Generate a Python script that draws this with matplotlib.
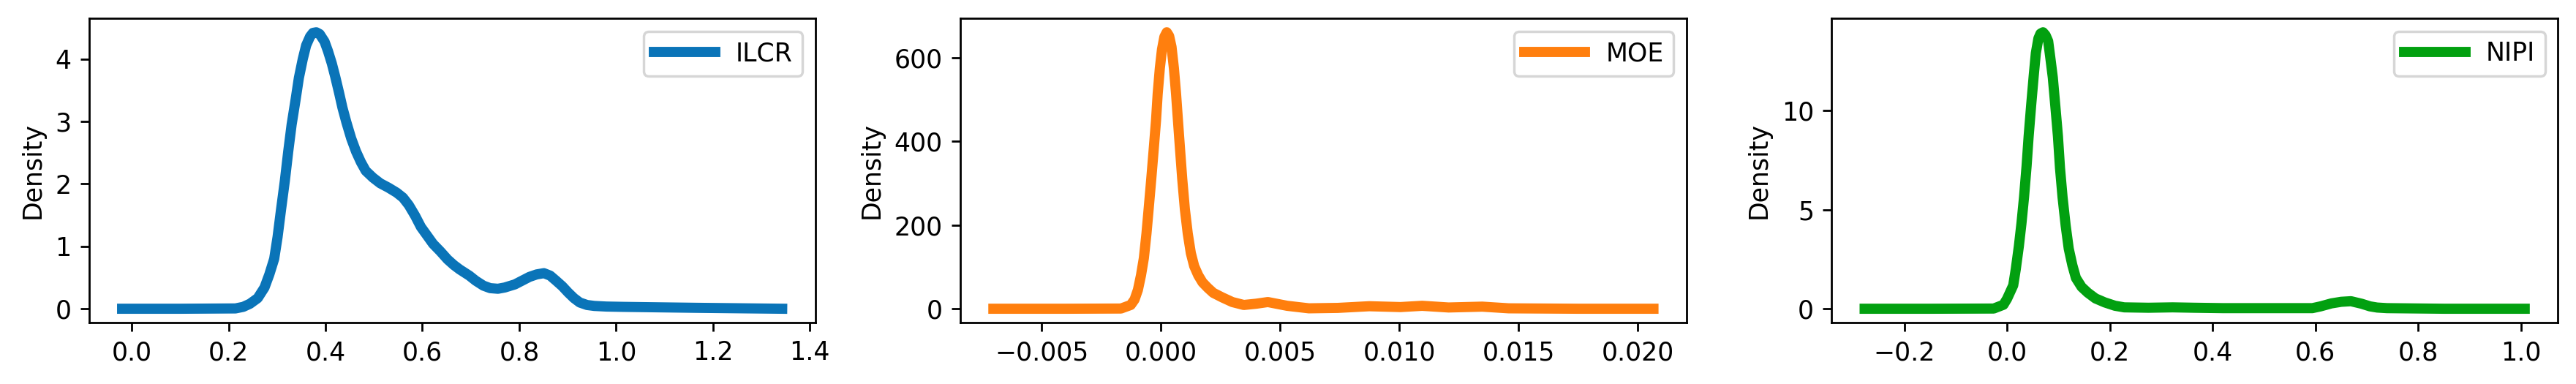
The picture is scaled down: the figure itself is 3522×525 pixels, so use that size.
import matplotlib
matplotlib.use("Agg")
import matplotlib.pyplot as plt

# KDE curves (x, density)
ilcr_x = [-0.02, 0.10, 0.214, 0.23, 0.244, 0.26, 0.274, 0.284, 0.294, 0.301, 0.308,
          0.316, 0.323, 0.33, 0.338, 0.345, 0.353, 0.36, 0.368, 0.374, 0.381, 0.388,
          0.398, 0.405, 0.413, 0.42, 0.428, 0.435, 0.443, 0.453, 0.463, 0.473, 0.483,
          0.498, 0.513, 0.53, 0.547, 0.56, 0.572, 0.585, 0.597, 0.61, 0.622, 0.637,
          0.652, 0.665, 0.677, 0.697, 0.71, 0.726, 0.74, 0.756, 0.77, 0.791, 0.806,
          0.821, 0.836, 0.851, 0.864, 0.876, 0.889, 0.901, 0.913, 0.925, 0.94, 0.955,
          0.98, 1.015, 1.164, 1.343]
ilcr_y = [0.0, 0.0, 0.005, 0.03, 0.08, 0.17, 0.34, 0.55, 0.80, 1.15, 1.58,
          2.05, 2.52, 2.95, 3.34, 3.70, 4.00, 4.22, 4.36, 4.42, 4.43, 4.40,
          4.28, 4.13, 3.93, 3.72, 3.46, 3.22, 2.99, 2.73, 2.52, 2.35, 2.21,
          2.10, 2.01, 1.94, 1.86, 1.78, 1.66, 1.49, 1.31, 1.17, 1.04, 0.92,
          0.79, 0.70, 0.63, 0.53, 0.45, 0.37, 0.33, 0.32, 0.34, 0.39, 0.45,
          0.51, 0.55, 0.57, 0.53, 0.45, 0.36, 0.26, 0.17, 0.10, 0.06, 0.045,
          0.035, 0.03, 0.015, 0.0]

moe_x = [-0.00702, -0.004, -0.00167, -0.00126, -0.0011, -0.00096, -0.00083, -0.00071,
         -0.0006, -0.00051, -0.0004, -0.0003, -0.0002, -0.00013, -0.00004, 0.00005,
         0.00015, 0.00025, 0.00035, 0.00045, 0.00055, 0.00064, 0.00072, 0.00081,
         0.0009, 0.00101, 0.00113, 0.00126, 0.0014, 0.00157, 0.00175, 0.00197,
         0.0022, 0.00258, 0.003, 0.00348, 0.004, 0.00449, 0.0053, 0.00621, 0.00742,
         0.00874, 0.01005, 0.01096, 0.01207, 0.01348, 0.01459, 0.0175, 0.02066]
moe_y = [0, 0, 0.5, 9, 22, 45, 80, 121,
         180, 238, 310, 379, 450, 514, 575, 620,
         650, 661, 652, 626, 575, 514, 450, 379,
         310, 238, 180, 133, 102, 80, 63, 50,
         38, 27, 16, 9, 12, 16, 7, 1, 2,
         6, 4, 7, 3, 5, 1, 0, 0]

nipi_x = [-0.277, -0.15, -0.026, -0.007, 0.0, 0.012, 0.017, 0.023, 0.028, 0.033,
          0.038, 0.042, 0.047, 0.052, 0.056, 0.061, 0.065, 0.070, 0.075, 0.080,
          0.084, 0.089, 0.094, 0.099, 0.103, 0.108, 0.114, 0.120, 0.127, 0.134,
          0.145, 0.157, 0.172, 0.190, 0.21, 0.228, 0.275, 0.322, 0.364, 0.420,
          0.594, 0.61, 0.631, 0.65, 0.669, 0.69, 0.706, 0.72, 0.739, 0.85, 1.007]
nipi_y = [0, 0, 0.01, 0.2, 0.5, 1.18, 2.0, 3.16, 4.3, 5.62,
          7.2, 8.70, 10.3, 11.79, 12.9, 13.64, 13.88, 13.95, 13.8, 13.5,
          12.7, 11.67, 10.2, 8.70, 7.1, 5.62, 4.2, 3.03, 2.2, 1.55,
          1.1, 0.81, 0.52, 0.32, 0.15, 0.07, 0.05, 0.07, 0.05, 0.03,
          0.03, 0.12, 0.27, 0.35, 0.38, 0.25, 0.12, 0.06, 0.03, 0.0, 0.0]

names = ["ILCR", "MOE", "NIPI"]
colors = ["#0a74b8", "#ff7f0e", "#02a010"]

fig, axes = plt.subplots(1, 3, figsize=(3522 / 250, 525 / 250), dpi=250)
fig.subplots_adjust(left=0.0346, right=0.9929, top=0.952, bottom=0.16, wspace=0.2)

for ax, xs, ys, name, c in zip(axes, [ilcr_x, moe_x, nipi_x], [ilcr_y, moe_y, nipi_y],
                               names, colors):
    ax.plot(xs, ys, color=c, linewidth=4, label=name, solid_joinstyle="round")
    ax.set_ylabel("Density", fontsize=10)
    ax.tick_params(labelsize=10)
    ax.legend(loc="upper right", fontsize=10, handlelength=2.4)

fig.savefig("out.png", dpi=250)
